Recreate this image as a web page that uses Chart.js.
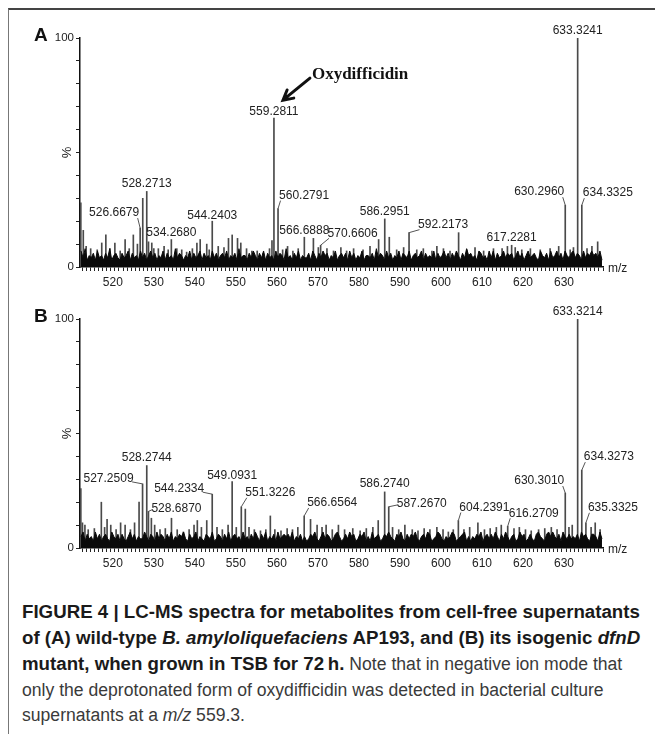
<!DOCTYPE html>
<html>
<head>
<meta charset="utf-8">
<script src="https://cdn.jsdelivr.net/npm/chart.js@4.4.1/dist/chart.umd.min.js"></script>
<style>
  html, body { margin: 0; padding: 0; background: #fff; }
  body { width: 655px; height: 734px; position: relative; overflow: hidden; font-family: "Liberation Sans", Arial, sans-serif; }
  .frame { position: absolute; left: 8px; top: 8px; right: 0; bottom: 0; border-top: 2px solid #444; border-left: 1.5px solid #777; }
  canvas { position: absolute; left: 0; }
  #chartA { top: 0; }
  #chartB { top: 292px; }
  .caption { position: absolute; left: 22px; top: 599px; font-size: 17.6px; line-height: 25.2px; color: #3a3a3a; white-space: nowrap; }
  .caption b { color: #1a1a1a; font-size: 18.7px; }
</style>
</head>
<body>
<div class="frame"></div>
<canvas id="chartA" width="655" height="292"></canvas>
<canvas id="chartB" width="655" height="280"></canvas>
<div class="caption">
<b>FIGURE 4 | LC-MS spectra for metabolites from cell-free supernatants</b><br>
<b>of (A) wild-type <i>B. amyloliquefaciens</i> AP193, and (B) its isogenic <i>dfnD</i></b><br>
<b>mutant, when grown in TSB for 72&#8201;h.</b> Note that in negative ion mode that<br>
only the deprotonated form of oxydifficidin was detected in bacterial culture<br>
supernatants at a <i>m/z</i> 559.3.
</div>
<script>
// axis range (m/z) and intensity (%)
const mzMin = 512, mzMax = 639.5;
const yTickValues = [0, 100];

// baseline noise, one value per 0.5 m/z starting at 512.25
const floorStart = 512.25, floorStep = 0.5;
const floorA = [
  7,4,8,3,5,4,6,3,7,4, 5,3,6,4,8,3,5,6,4,3, 6,4,5,7,3,6,4,5,3,7,
  4,6,3,5,7,4,6,3,5,4, 7,3,6,4,5,3,8,4,6,5, 3,5,4,7,3,6,4,5,7,3,
  6,4,5,3,7,4,6,3,5,6, 4,7,3,5,4,6,3,8,4,5, 5,3,6,4,7,5,3,6,4,7,
  3,6,4,5,3,7,4,6,5,3, 8,4,5,3,6,4,7,3,5,4, 4,6,3,7,5,3,6,4,7,5,
  6,3,5,4,7,3,5,6,4,6, 3,7,4,6,3,5,4,7,3,5, 5,4,6,3,8,4,6,5,3,7,
  4,6,3,5,4,7,3,6,5,4, 7,3,5,6,4,5,7,3,6,4, 5,4,7,3,6,4,5,7,4,6,
  3,6,4,7,5,3,6,4,8,5, 6,4,5,3,7,6,4,5,3,7, 4,7,3,6,4,5,7,4,6,5,
  6,3,5,7,4,6,3,5,7,4, 5,6,4,3,7,5,4,6,3,7, 4,5,7,4,6,3,7,5,4,6,
  7,4,6,5,3,7,4,6,5,7, 5,6,4,7,3
];
const floorB = [
  5,7,3,6,4,5,3,7,4,6, 3,5,6,4,3,7,5,4,6,3, 6,4,3,5,7,4,6,3,5,4,
  4,7,5,3,6,5,3,7,4,6, 5,3,6,4,7,3,5,4,6,5, 7,4,3,6,4,5,7,3,5,4,
  3,6,5,4,7,3,4,6,5,3, 6,4,7,3,5,6,4,5,3,7, 4,5,3,6,4,7,5,3,6,4,
  7,3,5,4,6,3,7,4,5,6, 5,6,4,7,3,5,4,6,3,5, 3,4,6,5,7,4,3,5,7,4,
  6,5,3,4,6,7,5,3,4,6, 4,7,5,6,3,4,6,5,7,3, 5,3,7,4,5,6,3,4,6,5,
  7,5,4,3,6,5,7,4,3,6, 4,6,5,7,4,3,5,6,4,7, 6,3,4,5,7,6,4,3,5,4,
  5,7,6,3,4,5,6,7,3,5, 3,5,4,6,5,7,3,5,6,4, 6,4,7,5,3,6,4,7,5,3,
  5,6,3,4,7,5,6,3,4,6, 4,3,6,7,5,4,3,6,7,5, 7,5,4,6,3,7,5,4,6,4,
  5,4,6,3,7,5,6,4,3,6, 6,5,3,7,4
];

// unlabelled spikes above the noise
const spikeMzA = [512.2, 512.8, 513.5, 514.6, 516.2, 517.3, 518.3, 519.3, 520.5, 521.8,
  523.0, 524.0, 525.0, 526.0, 527.3, 528.7, 529.5, 530.0, 531.1, 532.5,
  533.5, 535.6, 536.8, 538.0, 539.4, 540.5, 541.3, 542.9, 543.5, 545.7,
  547.1, 548.2, 549.1, 550.4, 551.2, 552.6, 553.9, 555.2, 556.7, 558.2,
  558.8, 561.4, 562.6, 563.9, 565.2, 568.9, 570.1, 572.2, 573.8, 575.6,
  577.0, 578.7, 581.0, 582.7, 584.8, 587.4, 589.2, 590.9, 594.1, 595.7,
  597.8, 599.0, 600.6, 602.2, 604.3, 606.3, 608.3, 610.4, 612.8, 614.9,
  616.2, 618.1, 619.7, 621.8, 624.2, 626.6, 628.7, 631.5, 632.3, 635.6,
  636.8, 638.2];
const spikeIntA = [28, 16, 9, 8, 7.5, 10.5, 14, 8, 10.5, 7,
  12, 8, 14, 10, 30, 11, 10.5, 8, 8, 9,
  7.5, 8, 7.5, 6.5, 8, 10.5, 12, 10, 7.5, 9,
  8.5, 12.5, 14, 12.5, 10.5, 8, 7, 7, 6, 8,
  11.5, 7.5, 9, 7, 8, 12.5, 8.5, 8, 7, 8.5,
  7, 8, 7.5, 9, 12, 13, 7.5, 8.5, 7.5, 8,
  7, 9, 8, 7, 15, 7.5, 8.5, 7, 8, 8,
  9, 8.5, 7.5, 8, 7.5, 8, 9, 7.5, 8.5, 8,
  9, 11];
const spikeMzB = [512.2, 512.6, 513.2, 514.0, 515.5, 517.2, 518.0, 518.6, 519.5, 520.8,
  521.9, 523.0, 524.3, 525.3, 526.4, 529.4, 530.2, 531.5, 532.8, 534.3,
  535.7, 537.2, 538.6, 539.8, 540.6, 541.6, 542.9, 545.4, 546.7, 548.1,
  550.1, 552.3, 553.2, 554.5, 556.0, 557.3, 558.4, 559.5, 561.0, 562.5,
  563.8, 565.1, 568.2, 569.8, 571.0, 572.0, 573.5, 575.0, 576.5, 578.5,
  580.3, 581.8, 583.4, 584.7, 588.2, 589.7, 591.2, 593.0, 594.4, 595.9,
  597.3, 599.0, 600.5, 601.8, 603.0, 605.6, 607.0, 609.0, 610.6, 612.0,
  613.5, 614.7, 617.8, 619.1, 620.6, 622.0, 623.8, 625.3, 626.9, 628.3,
  631.2, 632.0, 636.6, 637.6, 638.8];
const spikeIntB = [26, 11, 10, 8, 8.5, 20, 9, 12.5, 10, 8,
  11, 10, 8, 11, 20, 13, 10, 8, 8.5, 13,
  8, 7, 8, 10, 12, 9, 12, 9, 8, 10,
  9, 17, 9, 8, 7.5, 8, 14, 8, 7.5, 8.5,
  8, 9, 12.5, 10, 9, 10, 8, 10, 8, 8.5,
  7.5, 8.5, 9, 12, 9, 8, 10, 8, 7.5, 8.5,
  8, 9, 8, 7, 8, 8, 9, 11, 8, 8.5,
  9, 10, 8.5, 9, 8, 7.5, 8, 8.5, 9, 8,
  9, 10, 9, 11, 8];

// labelled peaks
const peakMzA = [526.6679, 528.2713, 534.2680, 544.2403, 559.2811, 560.2791, 566.6888,
  570.6606, 586.2951, 592.2173, 617.2281, 630.2960, 633.3241, 634.3325];
const peakIntA = [17, 33, 12, 20, 65, 25.5, 13, 9.5, 21, 15, 9.5, 27, 100, 27];
const peakMzB = [527.2509, 528.2744, 528.6870, 544.2334, 549.0931, 551.3226, 566.6564,
  586.2740, 587.2670, 604.2391, 616.2709, 630.3010, 633.3214, 634.3273, 635.3325];
const peakIntB = [28, 36, 16, 23.5, 29, 18, 14, 24.5, 18, 12, 9.5, 24, 100, 34, 11];

// label placement: side, x offset, height above peak top
const labelLayoutA = {
  '526.6679': ['left', -1, 15], '528.2713': ['top', 0, 8], '534.2680': ['top', 0, 7],
  '544.2403': ['top', 0, 6], '559.2811': ['top', 0, 6], '560.2791': ['right', 1, 13],
  '566.6888': ['top', 0, 7], '570.6606': ['right', 7, 12], '586.2951': ['top', 0, 7],
  '592.2173': ['right', 9, 8], '617.2281': ['top', 0, 8], '630.2960': ['left', -1, 13],
  '633.3241': ['top', 0, 7], '634.3325': ['right', 1, 12]
};
const labelLayoutB = {
  '527.2509': ['left', -9, 5], '528.2744': ['top', 0, 8], '528.6870': ['right', 3, 3],
  '544.2334': ['left', -8, 5], '549.0931': ['top', 0, 6], '551.3226': ['right', 4, 14],
  '566.6564': ['right', 3, 13], '586.2740': ['top', 0, 8], '587.2670': ['right', 8, 3],
  '604.2391': ['right', 1, 13], '616.2709': ['right', 1, 13], '630.3010': ['left', -1, 12],
  '633.3214': ['top', 0, 7], '634.3273': ['right', 2, 13], '635.3325': ['right', 2, 15]
};

const FONT = '"Liberation Sans", Arial, sans-serif';

function annotations(letter, peakMz, peakInt, layout, arrow) {
  return {
    id: 'annot' + letter,
    afterDatasetsDraw(chart) {
      const { ctx, chartArea, scales: { x, y } } = chart;
      ctx.save();
      ctx.font = '12px ' + FONT;
      ctx.fillStyle = '#222';
      ctx.strokeStyle = '#555';
      ctx.lineWidth = 1;
      ctx.textBaseline = 'middle';
      peakMz.forEach((m, i) => {
        const text = m.toFixed(4);
        const [side, dx, dy] = layout[text] || ['top', 0, 7];
        const px = x.getPixelForValue(m);
        const py = y.getPixelForValue(peakInt[i]);
        const ty = py - dy;
        if (side === 'top') {
          ctx.textAlign = 'center';
          ctx.fillText(text, px, ty);
          return;
        }
        const endY = ty + Math.min(5, Math.max(dy - 2, 1));
        ctx.textAlign = side === 'right' ? 'left' : 'right';
        ctx.fillText(text, px + dx, ty);
        ctx.beginPath();
        ctx.moveTo(px, py);
        ctx.lineTo(px + dx + (side === 'right' ? 1.5 : -1.5), endY);
        ctx.stroke();
      });

      // "%" axis label and m/z unit
      ctx.fillStyle = '#222';
      ctx.save();
      ctx.translate(67, y.getPixelForValue(50));
      ctx.rotate(-Math.PI / 2);
      ctx.textAlign = 'center';
      ctx.font = '13px ' + FONT;
      ctx.fillText('%', 0, 0);
      ctx.restore();
      ctx.textAlign = 'left';
      ctx.font = '12px ' + FONT;
      ctx.fillText('m/z', chartArea.right + 5, chartArea.bottom + 2);

      // panel letter
      ctx.font = 'bold 19px ' + FONT;
      ctx.fillStyle = '#111';
      ctx.fillText(letter, 34, chartArea.top - 2);

      if (arrow) {
        const px = x.getPixelForValue(arrow.mz);
        const py = y.getPixelForValue(arrow.int);
        ctx.font = 'bold 17px "Liberation Serif", "Times New Roman", serif';
        ctx.fillStyle = '#111';
        ctx.fillText(arrow.text, px + 38, py - 44);
        const x0 = px + 36, y0 = py - 40, x1 = px + 9, y1 = py - 18;
        const ang = Math.atan2(y1 - y0, x1 - x0);
        ctx.strokeStyle = '#111';
        ctx.lineWidth = 3;
        ctx.lineCap = 'round';
        ctx.beginPath();
        ctx.moveTo(x0, y0);
        ctx.lineTo(x1, y1);
        ctx.moveTo(x1 - 11 * Math.cos(ang - 0.5), y1 - 11 * Math.sin(ang - 0.5));
        ctx.lineTo(x1, y1);
        ctx.lineTo(x1 - 11 * Math.cos(ang + 0.5), y1 - 11 * Math.sin(ang + 0.5));
        ctx.stroke();
      }
      ctx.restore();
    }
  };
}

function makeChart(id, letter, floor, spikeMz, spikeInt, peakMz, peakInt, layout, topPad, xHeight, arrow) {
  const floorPts = floor.map((v, i) => ({ x: floorStart + i * floorStep, y: v }));
  const sticks = spikeMz.map((m, i) => ({ x: m, y: spikeInt[i] }))
    .concat(peakMz.map((m, i) => ({ x: m, y: peakInt[i] })));
  return new Chart(document.getElementById(id), {
    type: 'bar',
    data: {
      datasets: [
        { type: 'line', data: floorPts, borderColor: '#0a0a0a', backgroundColor: '#0a0a0a',
          borderWidth: 1, pointRadius: 0, fill: 'origin', tension: 0, order: 0 },
        { type: 'bar', data: sticks, backgroundColor: '#4a4a4a', barThickness: 1, order: 1 }
      ]
    },
    options: {
      responsive: false,
      animation: false,
      events: [],
      layout: { padding: { top: topPad, right: 52, left: 0, bottom: 0 } },
      plugins: { legend: { display: false }, tooltip: { enabled: false } },
      scales: {
        x: {
          type: 'linear', min: mzMin, max: mzMax, offset: false,
          grid: { drawOnChartArea: false, drawTicks: true, tickLength: 4, color: '#222', lineWidth: 1 },
          border: { display: true, color: '#111', width: 1.5 },
          ticks: {
            stepSize: 1, autoSkip: false, maxRotation: 0, includeBounds: false, padding: 4,
            color: '#222', font: { family: FONT, size: 12 },
            callback: v => (v % 10 === 0 ? v : '')
          },
          afterFit(s) { s.height = xHeight; }
        },
        y: {
          min: 0, max: 100,
          grid: { drawOnChartArea: false, drawTicks: true, tickLength: 4, color: '#222', lineWidth: 1 },
          border: { display: true, color: '#111', width: 1.5 },
          ticks: {
            stepSize: 10, padding: 2, color: '#222', font: { family: FONT, size: 11.5 },
            callback: v => (yTickValues.includes(v) ? v : '')
          },
          afterFit(s) { s.width = 80; }
        }
      }
    },
    plugins: [annotations(letter, peakMz, peakInt, layout, arrow)]
  });
}

makeChart('chartA', 'A', floorA, spikeMzA, spikeIntA, peakMzA, peakIntA, labelLayoutA, 38, 25,
  { mz: 559.2811, int: 65, text: 'Oxydifficidin' });
makeChart('chartB', 'B', floorB, spikeMzB, spikeIntB, peakMzB, peakIntB, labelLayoutB, 27, 24, null);
</script>
</body>
</html>
